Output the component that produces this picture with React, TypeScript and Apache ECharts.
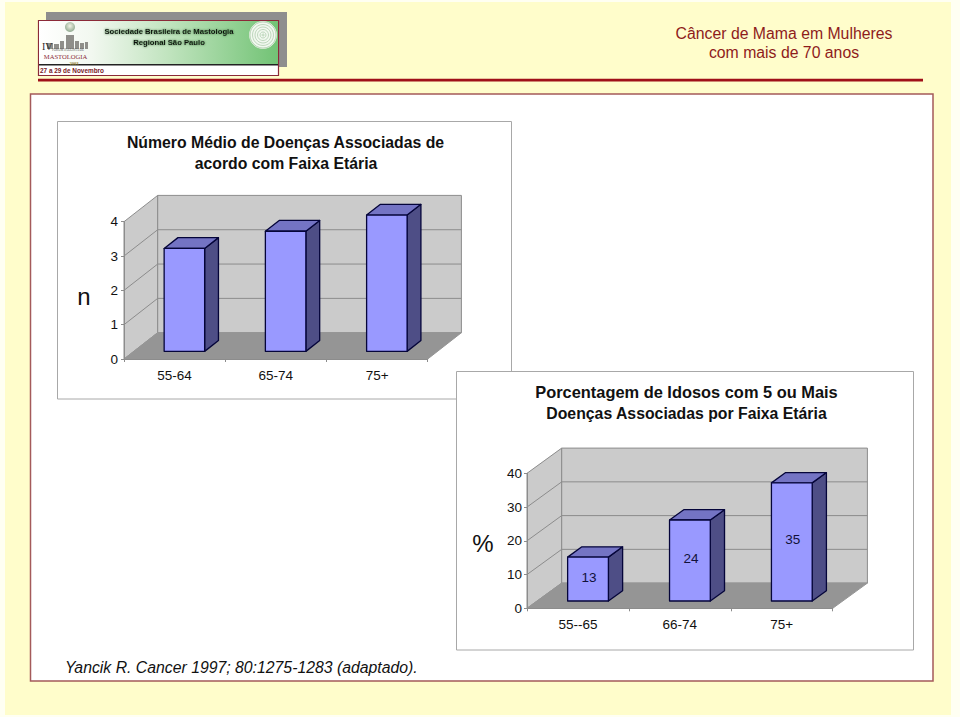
import React, { useEffect, useRef } from "react";
import * as echarts from "echarts";

const categoriesA = ["55-64", "65-74", "75+"];
const valuesA = [3.0, 3.5, 3.97];
const ticksA = [1, 2, 3];
const categoriesB = ["55--65", "66-74", "75+"];
const valuesB = [13, 24, 35];
const ticksB = [10, 20, 30];
const titleA = ["Número Médio de Doenças Associadas de", "acordo com Faixa Etária"];
const titleB = ["Porcentagem de Idosos com 5 ou Mais", "Doenças Associadas por Faixa Etária"];
const heading = ["Câncer de Mama em Mulheres", "com mais de 70 anos"];
const sourceNote = "Yancik R. Cancer 1997; 80:1275-1283 (adaptado).";

const SANS = '"Liberation Sans", Arial, sans-serif';
const SERIF = '"Liberation Serif", serif';
const WALL = "#CBCBCB";
const FLOOR = "#959595";
const EDGE = "#8C8C8C";

function t(x: number, y: number, text: string, font: string, fill: string, align = "center", extra: any = {}) {
  return {
    type: "text", x, y, z: 20,
    style: { text, font, fill, align, verticalAlign: "middle", textAlign: align, textVerticalAlign: "middle", ...extra },
  };
}
function r(x: number, y: number, width: number, height: number, fill: any, stroke?: string, lineWidth = 1, z = -10) {
  return { type: "rect", z, shape: { x, y, width, height }, style: { fill, stroke: stroke || "none", lineWidth } };
}

function wallSeries(gridIndex: number, dx: number, dy: number, max: number, ticks: number[]) {
  return [
    {
      type: "custom", xAxisIndex: gridIndex, yAxisIndex: gridIndex, z: 1, silent: true,
      data: [[0, max]],
      renderItem: (params: any) => {
        const c = params.coordSys;
        const l = c.x, rr = c.x + c.width, top = c.y, b = c.y + c.height;
        const stroke = { stroke: EDGE, lineWidth: 1 };
        return {
          type: "group",
          children: [
            { type: "polygon", shape: { points: [[l, b], [l + dx, b - dy], [l + dx, top - dy], [l, top]] }, style: { fill: WALL, ...stroke } },
            { type: "polygon", shape: { points: [[l + dx, b - dy], [rr + dx, b - dy], [rr + dx, top - dy], [l + dx, top - dy]] }, style: { fill: WALL, ...stroke } },
            { type: "polygon", shape: { points: [[l, b], [l + dx, b - dy], [rr + dx, b - dy], [rr, b]] }, style: { fill: FLOOR, stroke: FLOOR, lineWidth: 1 } },
          ],
        };
      },
    },
    {
      type: "custom", xAxisIndex: gridIndex, yAxisIndex: gridIndex, z: 1.5, silent: true,
      data: ticks.map((v) => [0, v]),
      renderItem: (params: any, api: any) => {
        const c = params.coordSys;
        const y = api.coord([0, api.value(1)])[1];
        return {
          type: "polyline",
          shape: { points: [[c.x, y], [c.x + dx, y - dy], [c.x + c.width + dx, y - dy]] },
          style: { fill: "none", stroke: EDGE, lineWidth: 1 },
        };
      },
    },
  ];
}

function barSeries(gridIndex: number, values: number[], dx: number, dy: number, showLabel: boolean) {
  const near = 0.29, far = 0.70, widthFrac = 0.4;
  return {
    type: "custom", xAxisIndex: gridIndex, yAxisIndex: gridIndex, z: 3, silent: true,
    encode: { x: 0, y: 1 },
    data: values.map((v, i) => [i, v]),
    renderItem: (_p: any, api: any) => {
      const i = api.value(0), v = api.value(1);
      const [cx, y0] = api.coord([i, 0]);
      const yv = api.coord([i, v])[1];
      const w = api.size([1, 0])[0] * widthFrac;
      const ox = dx * near, oy = dy * near;
      const x1 = cx - w / 2 + ox, x2 = cx + w / 2 + ox;
      const yb = y0 - oy, yt = yv - oy;
      const ddx = dx * (far - near), ddy = dy * (far - near);
      const style = { stroke: "#05053A", lineWidth: 1.3, lineJoin: "round" };
      const children: any[] = [
        { type: "polygon", shape: { points: [[x2, yb], [x2 + ddx, yb - ddy], [x2 + ddx, yt - ddy], [x2, yt]] }, style: { fill: "#4E4E86", ...style } },
        { type: "polygon", shape: { points: [[x1, yt], [x1 + ddx, yt - ddy], [x2 + ddx, yt - ddy], [x2, yt]] }, style: { fill: "#7474C4", ...style } },
        { type: "rect", shape: { x: x1, y: yt, width: x2 - x1, height: yb - yt }, style: { fill: "#9999FF", ...style } },
      ];
      if (showLabel) {
        children.push({
          type: "text", x: (x1 + x2) / 2 + 1, y: (yt + yb) / 2 - 2,
          style: { text: String(v), font: `13.5px ${SANS}`, fill: "#11113A", align: "center", verticalAlign: "middle", textAlign: "center", textVerticalAlign: "middle" },
        });
      }
      return { type: "group", children };
    },
  };
}

function axes(categories: string[], max: number, interval: number, yMargin: number) {
  const line = { show: true, lineStyle: { color: EDGE, width: 1 } };
  const tick = { show: true, length: 3, lineStyle: { color: EDGE } };
  const label = { color: "#111", fontFamily: SANS, fontSize: 13.5 };
  return {
    x: { type: "category", data: categories, z: 5, axisLine: line, axisTick: tick, axisLabel: { ...label, margin: 9 }, splitLine: { show: false } } as any,
    y: { type: "value", min: 0, max, interval, z: 5, axisLine: line, axisTick: tick, axisLabel: { ...label, margin: yMargin }, splitLine: { show: false } } as any,
  };
}

function logo(): any[] {
  const skyline = [[47, 43, 6, 6], [54, 44, 5, 5], [60, 41, 4, 8], [66, 35, 8, 14], [75, 41, 4, 8], [80, 43, 4, 6], [85, 42, 3, 7]];
  const rings = [13, 10.5, 8, 5.5, 3, 1];
  return [
    r(46, 12, 241, 55, "#8E8E8E"),
    r(38.5, 20.5, 240, 55, "#FFFFFF", "#8B2A38", 1.2, -9),
    r(39, 21, 239, 43, { type: "linear", x: 0, y: 0, x2: 1, y2: 0, colorStops: [{ offset: 0, color: "#FFFFFF" }, { offset: 0.22, color: "#F2F8F0" }, { offset: 0.55, color: "#BFE3BD" }, { offset: 1, color: "#72C375" }] }, undefined, 1, -8),
    r(39, 64, 239, 1.6, "#222222", undefined, 1, -8),
    ...skyline.map((s) => r(s[0], s[1], s[2], s[3], "#8F8F8A", undefined, 1, -7)),
    { type: "circle", z: -7, shape: { cx: 70, cy: 27, r: 5 }, style: { fill: { type: "radial", x: 0.5, y: 0.4, r: 0.6, colorStops: [{ offset: 0, color: "#F2F4E6" }, { offset: 1, color: "#8FA98F" }] } } },
    { type: "circle", z: -7, shape: { cx: 263, cy: 35, r: 13.5 }, style: { fill: "#F2F8F0", stroke: "#E3EFE0" } },
    ...rings.map((rad) => ({ type: "circle", z: -6, shape: { cx: 263, cy: 35, r: rad }, style: { fill: "none", stroke: "#A8C8A6", lineWidth: 0.7 } })),
    t(42, 46, "IV", `10px ${SERIF}`, "#2A2A2A", "left"),
    t(52, 50, "FORUM PAULISTA DE", `3.2px ${SERIF}`, "#555", "left"),
    t(65.5, 56, "MASTOLOGIA", `6.6px ${SERIF}`, "#8B2A38"),
    t(74, 63, "2003", `bold 4.6px ${SERIF}`, "#8D7A2A"),
    t(169, 31, "Sociedade Brasileira de Mastologia", `bold 7.7px ${SANS}`, "#101010", "center", { textShadowBlur: 2, textShadowColor: "#3B6B3B" }),
    t(169, 42, "Regional São Paulo", `bold 7.7px ${SANS}`, "#101010", "center", { textShadowBlur: 2, textShadowColor: "#3B6B3B" }),
    t(40, 70.5, "27 a 29 de Novembro", `bold 6.4px ${SANS}`, "#7A1A28", "left"),
  ];
}

export default function App() {
  const ref = useRef<HTMLDivElement>(null);
  useEffect(() => {
    document.body.style.margin = "0";
    const chart = echarts.init(ref.current!, null, { renderer: "svg", width: 960, height: 717 });
    const a = axes(categoriesA, 4, 1, 6);
    const b = axes(categoriesB, 40, 10, 5);
    chart.setOption({
      animation: false,
      backgroundColor: "#FFFFF2",
      grid: [
        { left: 124, top: 221.7, width: 303.7, height: 137.3 },
        { left: 527, top: 473.3, width: 305.7, height: 135 },
      ],
      xAxis: [a.x, { ...b.x, gridIndex: 1 }],
      yAxis: [a.y, { ...b.y, gridIndex: 1 }],
      series: [
        ...wallSeries(0, 33.7, 26.3, 4, ticksA),
        barSeries(0, valuesA, 33.7, 26.3, false),
        ...wallSeries(1, 34.7, 25.2, 40, ticksB),
        barSeries(1, valuesB, 34.7, 25.2, true),
      ],
      graphic: {
        elements: [
          r(5, 2, 946, 713, "#FFFDCB", undefined, 1, -12),
          ...logo(),
          r(38, 78.7, 885, 2.8, "#A01018"),
          r(30.5, 94, 902.5, 587, "#FFFFFF", "#A45A5A", 1.5, -5),
          r(57.5, 121.5, 454, 277.5, "#FFFFFF", "#A8A8A8", 1, -4),
          r(456.5, 371.5, 457, 278.5, "#FFFFFF", "#A8A8A8", 1, -3),
          t(784, 33, heading[0], `15.8px ${SANS}`, "#8E1B1B"),
          t(784, 52.5, heading[1], `15.8px ${SANS}`, "#8E1B1B"),
          t(285.5, 142, titleA[0], `bold 15.8px ${SANS}`, "#111"),
          t(286, 163, titleA[1], `bold 15.8px ${SANS}`, "#111"),
          t(686.5, 392, titleB[0], `bold 16.4px ${SANS}`, "#111"),
          t(686.5, 413, titleB[1], `bold 15.8px ${SANS}`, "#111"),
          t(84, 296, "n", `24px ${SANS}`, "#111"),
          t(483, 543, "%", `24px ${SANS}`, "#111"),
          t(65, 667, sourceNote, `italic 15.8px ${SANS}`, "#111", "left"),
        ],
      },
    });
    return () => chart.dispose();
  }, []);
  return <div ref={ref} style={{ position: "absolute", left: 0, top: 0, width: 960, height: 717, overflow: "hidden" }} />;
}
